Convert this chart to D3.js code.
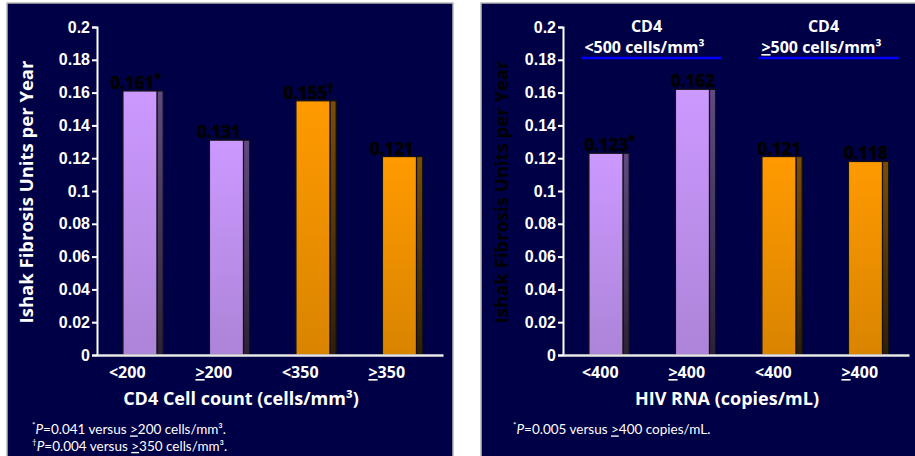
<!DOCTYPE html>
<html><head><meta charset="utf-8">
<script src="https://cdn.jsdelivr.net/npm/d3@7"></script>
<style>body{margin:0;background:#fff;} svg{display:block;}</style>
</head><body>
<svg id="chart" width="915" height="456"></svg>
<script>
// ---- data ----
const yTicks = [0, 0.02, 0.04, 0.06, 0.08, 0.1, 0.12, 0.14, 0.16, 0.18, 0.2];
const leftCategories = ["<200", "≥200", "<350", "≥350"];
const leftValues = [0.161, 0.131, 0.155, 0.121];
const leftMarks = ["*", "", "†", ""];
const rightCategories = ["<400", "≥400", "<400", "≥400"];
const rightValues = [0.123, 0.162, 0.121, 0.118];
const rightMarks = ["*", "", "", ""];
const barColors = ["purple", "purple", "orange", "orange"];
const rightGroupTitles = ["CD4", "CD4"];
const rightGroupSubtitles = ["<500 cells/mm³", "≥500 cells/mm³"];
const yTitle = "Ishak Fibrosis Units per Year";
const leftXTitle = "CD4 Cell count (cells/mm³)";
const rightXTitle = "HIV RNA (copies/mL)";
const leftFootnotes = ["*P=0.041 versus ≥200 cells/mm³.", "†P=0.004 versus ≥350 cells/mm³."];
const rightFootnotes = ["*P=0.005 versus ≥400 copies/mL."];

// ---- drawing ----
const svg = d3.select("#chart");
const BG = "#000046";
const CAL = "'Open Sans', Lato, sans-serif";
const FOOT = "Lato, 'Open Sans', sans-serif";
const ARIAL = "'Liberation Sans', Arial, sans-serif";

const defs = svg.append("defs");
function grad(id, c1, c2) {
  const g = defs.append("linearGradient").attr("id", id).attr("x1", 0).attr("y1", 0).attr("x2", 0).attr("y2", 1);
  g.append("stop").attr("offset", "0%").attr("stop-color", c1);
  g.append("stop").attr("offset", "100%").attr("stop-color", c2);
}
grad("purpleFront", "#CC99FF", "#AC84D8");
grad("purpleSide", "#604A82", "#2C2236");
grad("orangeFront", "#FF9A00", "#D98400");
grad("orangeSide", "#7C4C08", "#2E1E08");

// rich text: "≥" -> underlined ">"
function addRich(text, str, opts = {}) {
  let i = 0;
  if (opts.leadSup) {
    text.append("tspan").attr("font-size", "0.6em").attr("dy", "-0.45em").text(str[0]);
    text.append("tspan").attr("dy", "0.45em").attr("font-style", "italic").text(str[1]);
    i = 2;
  }
  const parts = str.slice(i).split("≥");
  parts.forEach((p, k) => {
    if (k > 0) text.append("tspan").style("text-decoration", "underline").text(">");
    if (p.length) text.append("tspan").text(p);
  });
}

function drawPanel(cfg) {
  const g = svg.append("g");
  g.append("rect").attr("x", cfg.px).attr("y", 3).attr("width", cfg.pw).attr("height", 480)
    .attr("fill", BG).attr("stroke", "#b8b8b8").attr("stroke-width", 1.5);

  const y = d3.scaleLinear().domain([0, 0.2]).range([355, 27]);
  const x = d3.scaleBand().domain(d3.range(cfg.categories.length)).range([cfg.x0, cfg.x0 + 346]).padding(0);
  const bw = x.bandwidth();

  cfg.values.forEach((v, i) => {
    const fx = x(i) + bw * 0.3, fw = bw * 0.393, sw = bw * 0.072;
    g.append("rect").attr("x", fx + fw).attr("y", y(v)).attr("width", sw).attr("height", y(0) - y(v))
      .attr("fill", `url(#${barColors[i]}Side)`).attr("stroke", "#111").attr("stroke-width", 1.2);
    g.append("rect").attr("x", fx).attr("y", y(v)).attr("width", fw).attr("height", y(0) - y(v))
      .attr("fill", `url(#${barColors[i]}Front)`).attr("stroke", "#111").attr("stroke-width", 1.2);
    const t = g.append("text").attr("y", y(v) - 2).attr("font-family", CAL).attr("font-weight", 700)
      .attr("font-size", 17).attr("fill", "#000").attr("stroke", "#000").attr("stroke-width", 0.6);
    const num = t.append("tspan").text(d3.format(".3f")(v));
    const w = num.node().getComputedTextLength();
    t.attr("x", x(i) + bw * 0.5 + cfg.labelOff - w / 2);
    if (cfg.marks[i]) t.append("tspan").attr("font-size", 13).attr("dy", -6).text(cfg.marks[i]);
  });

  const ya = g.append("g").attr("transform", `translate(${cfg.x0},0)`)
    .call(d3.axisLeft(y).tickValues(yTicks).tickSize(5).tickPadding(2).tickFormat(d => String(d)));
  ya.select(".domain").attr("stroke", "#fff").attr("stroke-width", 2);
  ya.selectAll(".tick line").attr("stroke", "#fff").attr("stroke-width", 2);
  ya.selectAll(".tick text").attr("fill", "#fff").attr("font-family", ARIAL).attr("font-weight", 700).attr("font-size", 16);

  const xa = g.append("g").attr("transform", `translate(0,${y(0)})`)
    .call(d3.axisBottom(x).tickSize(0).tickFormat(""));
  xa.select(".domain").attr("stroke", "#e8e8e8").attr("stroke-width", 2.5);

  cfg.categories.forEach((c, i) => {
    const t = g.append("text").attr("x", x(i) + bw / 2 + cfg.catOff).attr("y", 378)
      .attr("text-anchor", "middle").attr("font-family", CAL).attr("font-weight", 700)
      .attr("font-size", 16).attr("fill", "#fff");
    addRich(t, c);
  });

  g.append("text").attr("x", cfg.xTitleX).attr("y", 405).attr("text-anchor", "middle")
    .attr("font-family", CAL).attr("font-weight", 700).attr("font-size", 18).attr("fill", "#fff")
    .text(cfg.xTitle);

  g.append("text").attr("transform", `translate(${cfg.yTitleX},192) rotate(-90)`)
    .attr("text-anchor", "middle").attr("font-family", CAL).attr("font-weight", 700)
    .attr("font-size", 18.5).attr("fill", cfg.yTitleColor).text(yTitle);

  cfg.footnotes.forEach((f, k) => {
    const t = g.append("text").attr("x", cfg.footX).attr("y", 432 + k * 16.5)
      .attr("font-family", FOOT).attr("font-size", 13.5).attr("fill", "#fff");
    addRich(t, f, { leadSup: true });
  });

  return { x, y, bw };
}

drawPanel({
  px: 7, pw: 446, x0: 97, categories: leftCategories, values: leftValues, marks: leftMarks,
  labelOff: -8, catOff: -13, xTitle: leftXTitle, xTitleX: 241, yTitleX: 33, yTitleColor: "#fff",
  footnotes: leftFootnotes, footX: 32
});

const rp = drawPanel({
  px: 481, pw: 460, x0: 563, categories: rightCategories, values: rightValues, marks: rightMarks,
  labelOff: 0, catOff: -6, xTitle: rightXTitle, xTitleX: 727, yTitleX: 508, yTitleColor: "#000",
  footnotes: rightFootnotes, footX: 513
});

rightGroupTitles.forEach((tt, k) => {
  const gx0 = rp.x(k * 2), gx1 = rp.x(k * 2 + 1) + rp.bw;
  const cx = (gx0 + gx1) / 2;
  svg.append("text").attr("x", cx - 3 + k * 4).attr("y", 32).attr("text-anchor", "middle")
    .attr("font-family", CAL).attr("font-weight", 700).attr("font-size", 16).attr("fill", "#fff").text(tt);
  const t = svg.append("text").attr("x", cx - 5 + k * 4).attr("y", 53).attr("text-anchor", "middle")
    .attr("font-family", CAL).attr("font-weight", 700).attr("font-size", 16).attr("fill", "#fff");
  addRich(t, rightGroupSubtitles[k]);
  svg.append("line").attr("x1", cx - 68 + k * 4).attr("x2", cx + 72 + k * 4).attr("y1", 58).attr("y2", 58)
    .attr("stroke", "#0000ff").attr("stroke-width", 2.5);
});
</script>
</body></html>
